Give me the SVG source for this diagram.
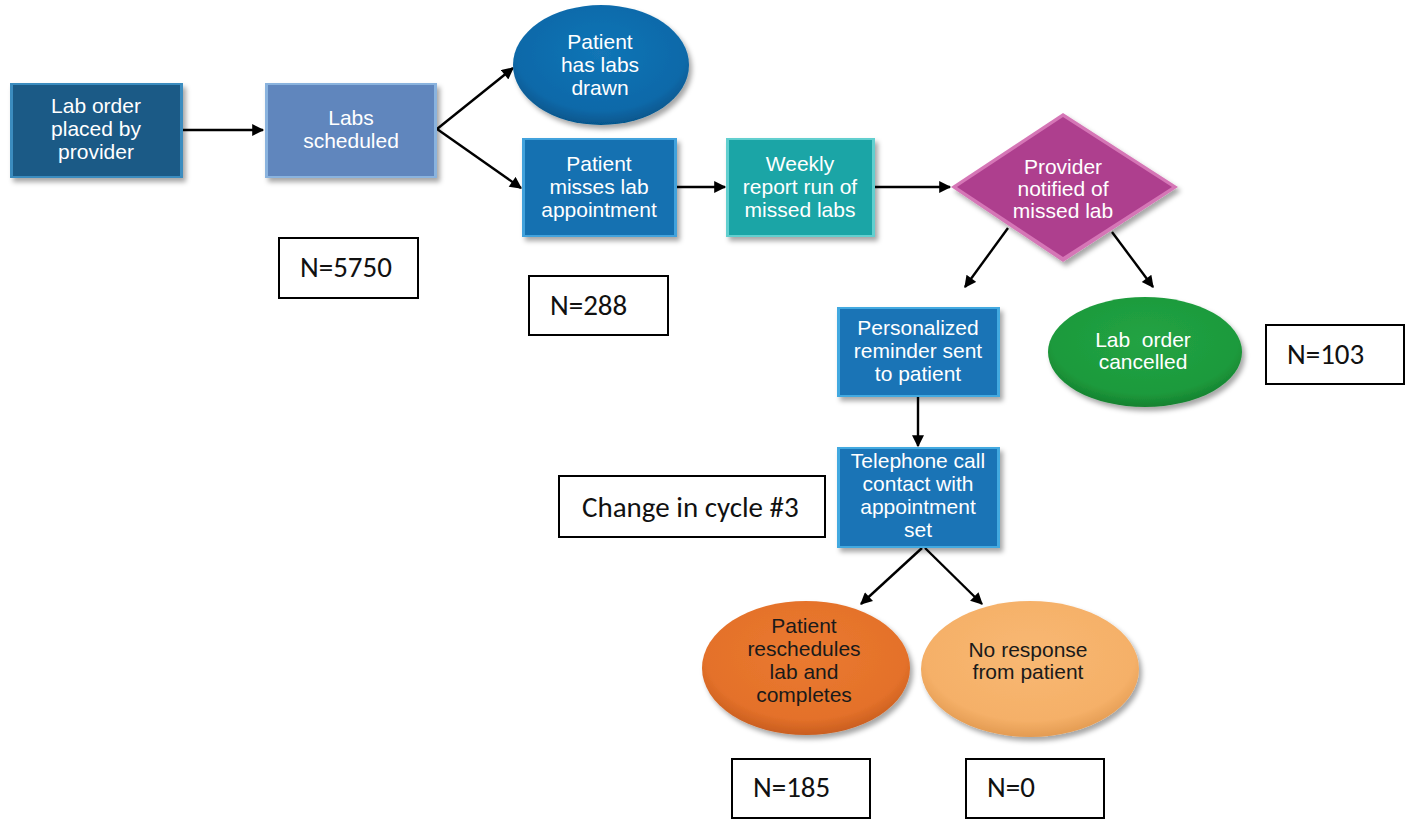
<svg xmlns="http://www.w3.org/2000/svg" width="1410" height="821" viewBox="0 0 1410 821">
<style>
.t{font-family:"Liberation Sans",Arial,sans-serif;font-size:21px;fill:#ffffff;text-anchor:middle}
.td{font-family:"Liberation Sans",Arial,sans-serif;font-size:21px;fill:#1a1a1a;text-anchor:middle}
.nb{fill:#ffffff;stroke:#000000;stroke-width:2}
.nt{font-family:"Carlito","Liberation Sans",Arial,sans-serif;font-size:29px;fill:#111111}
.c{stroke:#000000;stroke-width:2.4;fill:none;marker-end:url(#ah)}
</style>
<defs>
<marker id="ah" viewBox="0 0 10 10" refX="9" refY="5" markerWidth="13" markerHeight="12" markerUnits="userSpaceOnUse" orient="auto">
<path d="M0,0 L10,5 L0,10 z" fill="#000000"/>
</marker>
<filter id="sh" x="-10%" y="-10%" width="125%" height="130%">
<feDropShadow dx="3" dy="4" stdDeviation="2.5" flood-color="#000000" flood-opacity="0.35"/>
</filter>
<radialGradient id="gBlue" cx="50%" cy="40%" r="60%">
<stop offset="0" stop-color="#1275b6"/><stop offset="0.8" stop-color="#0b69a9"/><stop offset="1" stop-color="#06568c"/>
</radialGradient>
<radialGradient id="gGreen" cx="50%" cy="40%" r="60%">
<stop offset="0" stop-color="#22a344"/><stop offset="0.8" stop-color="#1d9a3c"/><stop offset="1" stop-color="#15812f"/>
</radialGradient>
<radialGradient id="gOrange" cx="50%" cy="40%" r="60%">
<stop offset="0" stop-color="#ea7a30"/><stop offset="0.8" stop-color="#e4712a"/><stop offset="1" stop-color="#c95e1f"/>
</radialGradient>
<radialGradient id="gLight" cx="50%" cy="40%" r="60%">
<stop offset="0" stop-color="#f8b873"/><stop offset="0.8" stop-color="#f5b068"/><stop offset="1" stop-color="#e39b52"/>
</radialGradient>
</defs>

<g id="connectors">
<line class="c" x1="183" y1="130" x2="263" y2="130"/>
<line class="c" x1="437" y1="129" x2="513" y2="68"/>
<line class="c" x1="437" y1="129" x2="521" y2="188"/>
<line class="c" x1="677" y1="187" x2="725" y2="187"/>
<line class="c" x1="875" y1="187" x2="950" y2="187"/>
<line class="c" x1="1008" y1="228" x2="965" y2="287"/>
<line class="c" x1="1112" y1="232" x2="1153" y2="287"/>
<line class="c" x1="918" y1="397" x2="918" y2="446"/>
<line class="c" x1="922" y1="548" x2="861" y2="604"/>
<line class="c" x1="925" y1="548" x2="982" y2="604"/>
</g>

<g id="lab-order">
<rect x="10" y="83" width="173" height="95" fill="#3a8cbf" filter="url(#sh)"/>
<rect x="13" y="85" width="167" height="91" fill="#1b5a86"/>
<text class="t" x="96" y="113">Lab order</text>
<text class="t" x="96" y="136">placed by</text>
<text class="t" x="96" y="159">provider</text>
</g>

<g id="labs-scheduled">
<rect x="265" y="83" width="172" height="95" fill="#8ab3de" filter="url(#sh)"/>
<rect x="268" y="85" width="166" height="91" fill="#6086bd"/>
<text class="t" x="351" y="125">Labs</text>
<text class="t" x="351" y="148">scheduled</text>
</g>

<g id="labs-drawn">
<ellipse cx="601" cy="65" rx="88" ry="60" fill="url(#gBlue)" filter="url(#sh)"/>
<text class="t" x="600" y="49">Patient</text>
<text class="t" x="600" y="72">has labs</text>
<text class="t" x="600" y="95">drawn</text>
</g>

<g id="misses-lab">
<rect x="522" y="138" width="155" height="99" fill="#42a2dc" filter="url(#sh)"/>
<rect x="525" y="140" width="149" height="95" fill="#1571b1"/>
<text class="t" x="599" y="171">Patient</text>
<text class="t" x="599" y="194">misses lab</text>
<text class="t" x="599" y="217">appointment</text>
</g>

<g id="weekly-report">
<rect x="726" y="138" width="149" height="99" fill="#62cfcf" filter="url(#sh)"/>
<rect x="729" y="140" width="143" height="95" fill="#1ba5a6"/>
<text class="t" x="800" y="171">Weekly</text>
<text class="t" x="800" y="194">report run of</text>
<text class="t" x="800" y="217">missed labs</text>
</g>

<g id="provider-notified">
<polygon points="951,187 1063,113 1178,187 1063,262" fill="#d576b6" filter="url(#sh)"/>
<polygon points="957,187 1063,117 1172,187 1063,257" fill="#ae3f8e"/>
<text class="t" x="1063" y="174">Provider</text>
<text class="t" x="1063" y="196">notified of</text>
<text class="t" x="1063" y="218">missed lab</text>
</g>

<g id="reminder">
<rect x="837" y="307" width="163" height="90" fill="#43a9e0" filter="url(#sh)"/>
<rect x="840" y="309" width="157" height="86" fill="#1a74b6"/>
<text class="t" x="918" y="335">Personalized</text>
<text class="t" x="918" y="358">reminder sent</text>
<text class="t" x="918" y="381">to patient</text>
</g>

<g id="cancelled">
<ellipse cx="1145" cy="352" rx="97" ry="55" fill="url(#gGreen)" filter="url(#sh)"/>
<text class="t" x="1143" y="347" xml:space="preserve">Lab  order</text>
<text class="t" x="1143" y="369">cancelled</text>
</g>

<g id="telephone">
<rect x="837" y="447" width="163" height="101" fill="#43a9e0" filter="url(#sh)"/>
<rect x="840" y="449" width="157" height="97" fill="#1a74b6"/>
<text class="t" x="918" y="468">Telephone call</text>
<text class="t" x="918" y="491">contact with</text>
<text class="t" x="918" y="514">appointment</text>
<text class="t" x="918" y="537">set</text>
</g>

<g id="reschedules">
<ellipse cx="806" cy="668" rx="104" ry="67" fill="url(#gOrange)" filter="url(#sh)"/>
<text class="td" x="804" y="633">Patient</text>
<text class="td" x="804" y="656">reschedules</text>
<text class="td" x="804" y="679">lab and</text>
<text class="td" x="804" y="702">completes</text>
</g>

<g id="no-response">
<ellipse cx="1030" cy="669" rx="109" ry="68" fill="url(#gLight)" filter="url(#sh)"/>
<text class="td" x="1028" y="657">No response</text>
<text class="td" x="1028" y="679">from patient</text>
</g>

<g id="n5750">
<rect class="nb" x="279" y="238" width="139" height="60"/>
<text class="nt" x="300" y="277">N=5750</text>
</g>
<g id="n288">
<rect class="nb" x="529" y="276" width="139" height="59"/>
<text class="nt" x="550" y="315">N=288</text>
</g>
<g id="n103">
<rect class="nb" x="1266" y="325" width="138" height="59"/>
<text class="nt" x="1287" y="364">N=103</text>
</g>
<g id="change-cycle">
<rect class="nb" x="559" y="476" width="266" height="61"/>
<text class="nt" x="582" y="517">Change in cycle #3</text>
</g>
<g id="n185">
<rect class="nb" x="732" y="759" width="138" height="59"/>
<text class="nt" x="753" y="797">N=185</text>
</g>
<g id="n0">
<rect class="nb" x="966" y="759" width="138" height="59"/>
<text class="nt" x="987" y="797">N=0</text>
</g>
</svg>
